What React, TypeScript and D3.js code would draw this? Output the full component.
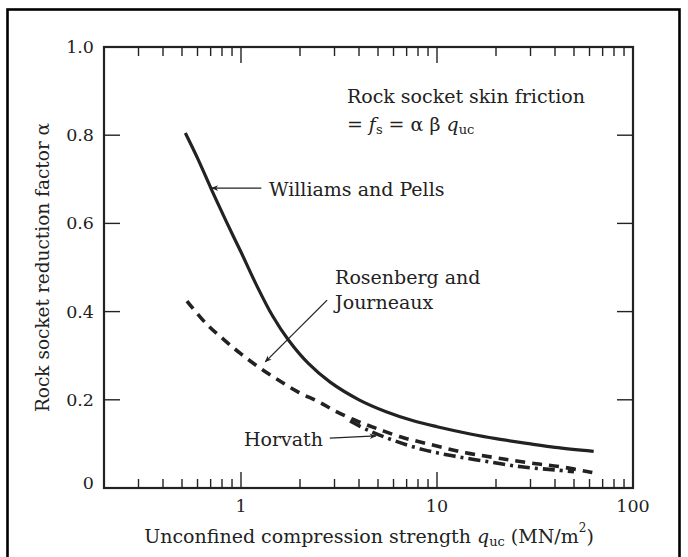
// Rock socket reduction factor vs unconfined compression strength
import React, { useEffect, useRef } from 'react';
import * as d3 from 'd3';

type Pt = [number, number];

// [q_uc (MN/m2), alpha]
const williamsPells: Pt[] = [
  [0.52, 0.805], [0.6, 0.748], [0.71, 0.675], [0.85, 0.6], [1.0, 0.535],
  [1.2, 0.46], [1.45, 0.39], [1.75, 0.335], [2.2, 0.283], [2.85, 0.24],
  [4, 0.2], [5.5, 0.173], [7.5, 0.153], [10, 0.139], [15, 0.122],
  [20, 0.112], [30, 0.1], [40, 0.092], [63, 0.083],
];

const rosenbergJourneaux: Pt[] = [
  [0.53, 0.424], [0.66, 0.374], [0.82, 0.336], [1.0, 0.304], [1.25, 0.272],
  [1.55, 0.245], [1.95, 0.218], [2.5, 0.195], [3.1, 0.172], [4, 0.15],
  [5, 0.134], [6.5, 0.116], [9, 0.1], [14, 0.08], [19, 0.07], [24, 0.063],
  [32, 0.055], [43, 0.048], [62, 0.035],
];

const horvath: Pt[] = [
  [3.6, 0.152], [4.5, 0.13], [6, 0.108], [8.5, 0.087], [12, 0.073],
  [18, 0.06], [27, 0.048], [40, 0.041], [50, 0.037],
];

const xDomain: Pt = [0.2, 100];
const xTickLabels = [1, 10, 100];
const yTicks = [0, 0.2, 0.4, 0.6, 0.8, 1.0];
const yTickLabels = ['0', '0.2', '0.4', '0.6', '0.8', '1.0'];

const FONT = '"DejaVu Serif", serif';
const INK = '#222';

const App: React.FC = () => {
  const ref = useRef<SVGSVGElement>(null);

  useEffect(() => {
    if (!ref.current) return;
    const svg = d3.select(ref.current);
    svg.selectAll('*').remove();

    const width = 688;
    const height = 557;
    const margin = { top: 47, right: 55, bottom: 69, left: 104 };

    svg.attr('width', width).attr('height', height);

    const x = d3.scaleLog().domain(xDomain).range([margin.left, width - margin.right]);
    const y = d3.scaleLinear().domain([0, 1]).range([height - margin.bottom, margin.top]);

    const x0 = x.range()[0];
    const x1 = x.range()[1];
    const y0 = y.range()[0];
    const y1 = y.range()[1];

    svg.append('rect').attr('width', width).attr('height', height).attr('fill', '#fff');

    // outer figure border
    svg.append('rect')
      .attr('x', 7.5).attr('y', 9.5)
      .attr('width', 672).attr('height', 570)
      .attr('fill', 'none').attr('stroke', '#000').attr('stroke-width', 2.6);

    const defs = svg.append('defs');
    defs.append('marker')
      .attr('id', 'arrow')
      .attr('viewBox', '0 0 10 10')
      .attr('refX', 9).attr('refY', 5)
      .attr('markerWidth', 10).attr('markerHeight', 7)
      .attr('markerUnits', 'userSpaceOnUse')
      .attr('orient', 'auto')
      .append('path')
      .attr('d', 'M0,1 L10,5 L0,9 L3,5 Z')
      .attr('fill', INK);

    // ticks
    const xt = x.ticks();
    const tickG = svg.append('g').attr('stroke', INK).attr('stroke-width', 1.4);
    xt.forEach(t => {
      const major = xTickLabels.includes(t);
      const len = major ? 16 : 9;
      const px = x(t);
      if (px <= x0 + 1 || px >= x1 - 1) return;
      tickG.append('line').attr('x1', px).attr('x2', px).attr('y1', y0).attr('y2', y0 - len);
      tickG.append('line').attr('x1', px).attr('x2', px).attr('y1', y1).attr('y2', y1 + len);
    });
    yTicks.forEach(t => {
      if (t === 0 || t === 1) return;
      tickG.append('line').attr('x1', x0).attr('x2', x0 + 16).attr('y1', y(t)).attr('y2', y(t));
      tickG.append('line').attr('x1', x1).attr('x2', x1 - 16).attr('y1', y(t)).attr('y2', y(t));
    });

    // frame
    svg.append('rect')
      .attr('x', x0).attr('y', y1)
      .attr('width', x1 - x0).attr('height', y0 - y1)
      .attr('fill', 'none').attr('stroke', INK).attr('stroke-width', 2.2);

    // tick labels
    svg.append('g').selectAll('text')
      .data(xTickLabels)
      .enter().append('text')
      .attr('x', d => x(d))
      .attr('y', y0 + 18)
      .attr('text-anchor', 'middle')
      .attr('dominant-baseline', 'central')
      .style('font-family', FONT).style('font-size', '17.5px').style('fill', INK)
      .text(d => String(d));

    svg.append('g').selectAll('text')
      .data(yTicks)
      .enter().append('text')
      .attr('x', x0 - 10)
      .attr('y', d => (d === 0 ? y(d) - 5 : y(d)))
      .attr('text-anchor', 'end')
      .attr('dominant-baseline', 'central')
      .style('font-family', FONT).style('font-size', '17.5px').style('fill', INK)
      .text((_, i) => yTickLabels[i]);

    // axis titles
    const xTitle = svg.append('text')
      .attr('x', 369)
      .attr('y', y0 + 48)
      .attr('text-anchor', 'middle')
      .attr('dominant-baseline', 'central')
      .style('font-family', FONT).style('font-size', '19px').style('fill', INK);
    xTitle.append('tspan').text('Unconfined compression strength ');
    xTitle.append('tspan').style('font-style', 'italic').text('q');
    xTitle.append('tspan').attr('dy', 5).style('font-size', '13px').text('uc');
    xTitle.append('tspan').attr('dy', -5).text(' (MN/m');
    xTitle.append('tspan').attr('dy', -8).style('font-size', '12px').text('2');
    xTitle.append('tspan').attr('dy', 8).text(')');

    svg.append('text')
      .attr('transform', `translate(42,${(y0 + y1) / 2}) rotate(-90)`)
      .attr('text-anchor', 'middle')
      .attr('dominant-baseline', 'central')
      .style('font-family', FONT).style('font-size', '18.5px').style('fill', INK)
      .text('Rock socket reduction factor α');

    // curves
    const line = d3.line<Pt>()
      .x(d => x(d[0]))
      .y(d => y(d[1]))
      .curve(d3.curveCatmullRom.alpha(0.5));

    svg.append('path')
      .datum(horvath)
      .attr('fill', 'none').attr('stroke', INK)
      .attr('stroke-width', 3.6)
      .attr('stroke-dasharray', '12,5,3,5')
      .attr('d', line);

    svg.append('path')
      .datum(rosenbergJourneaux)
      .attr('fill', 'none').attr('stroke', INK)
      .attr('stroke-width', 3.6)
      .attr('stroke-dasharray', '10,7')
      .attr('d', line);

    svg.append('path')
      .datum(williamsPells)
      .attr('fill', 'none').attr('stroke', INK)
      .attr('stroke-width', 3.2)
      .attr('d', line);

    // annotations
    const label = (q: number, a: number, txt: string, anchor = 'start') =>
      svg.append('text')
        .attr('x', x(q)).attr('y', y(a))
        .attr('text-anchor', anchor)
        .attr('dominant-baseline', 'central')
        .style('font-family', FONT).style('font-size', '19px').style('fill', INK)
        .text(txt);

    const arrow = (from: Pt, to: Pt) =>
      svg.append('line')
        .attr('x1', x(from[0])).attr('y1', y(from[1]))
        .attr('x2', x(to[0])).attr('y2', y(to[1]))
        .attr('stroke', INK).attr('stroke-width', 1.3)
        .attr('marker-end', 'url(#arrow)');

    label(1.39, 0.678, 'Williams and Pells');
    arrow([1.27, 0.68], [0.71, 0.68]);

    label(3.02, 0.478, 'Rosenberg and');
    label(3.02, 0.422, 'Journeaux');
    arrow([2.75, 0.426], [1.33, 0.286]);

    label(2.62, 0.11, 'Horvath', 'end');
    arrow([2.84, 0.113], [4.88, 0.118]);

    label(3.47, 0.889, 'Rock socket skin friction');
    const f = svg.append('text')
      .attr('x', x(3.47)).attr('y', y(0.826))
      .attr('dominant-baseline', 'central')
      .style('font-family', FONT).style('font-size', '19px').style('fill', INK);
    f.append('tspan').text('= ');
    f.append('tspan').style('font-style', 'italic').text('f');
    f.append('tspan').attr('dy', 5).style('font-size', '13px').text('s');
    f.append('tspan').attr('dy', -5).text(' = α β ');
    f.append('tspan').style('font-style', 'italic').text('q');
    f.append('tspan').attr('dy', 5).style('font-size', '13px').text('uc');
  }, []);

  return (
    <div style={{ position: 'absolute', left: 0, top: 0 }}>
      <svg ref={ref} style={{ display: 'block' }}></svg>
    </div>
  );
};

export default App;
